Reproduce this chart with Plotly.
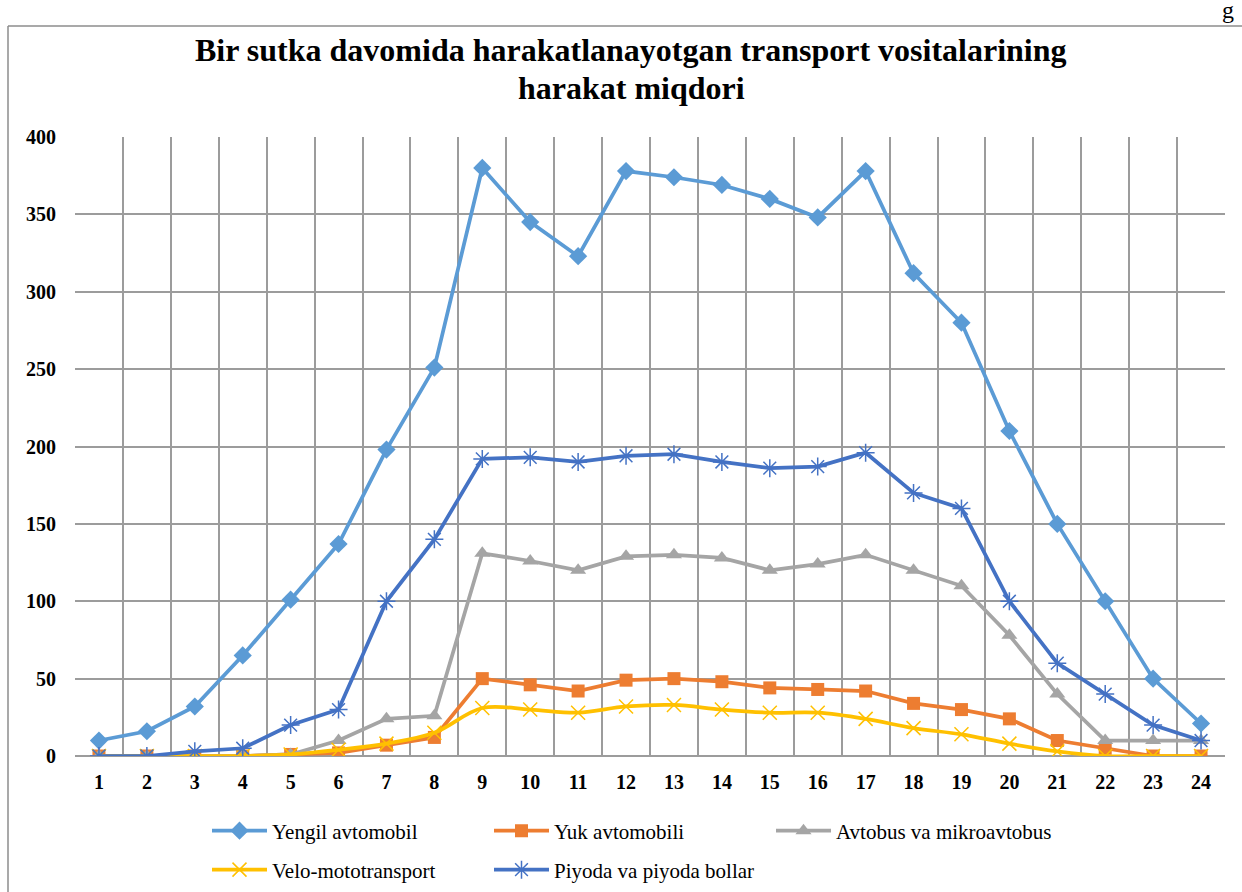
import plotly.graph_objects as go

hours = [str(i) for i in range(1, 25)]
yengil = [10, 16, 32, 65, 101, 137, 198, 251, 380, 345, 323, 378, 374, 369, 360, 348, 378, 312, 280, 210, 150, 100, 50, 21]
yuk = [0, 0, 0, 0, 1, 2, 7, 12, 50, 46, 42, 49, 50, 48, 44, 43, 42, 34, 30, 24, 10, 5, 0, 0]
avtobus = [0, 0, 0, 0, 1, 10, 24, 26, 131, 126, 120, 129, 130, 128, 120, 124, 130, 120, 110, 78, 40, 10, 10, 10]
velo = [0, 0, 0, 0, 1, 4, 8, 15, 31, 30, 28, 32, 33, 30, 28, 28, 24, 18, 14, 8, 3, 0, 0, 0]
piyoda = [0, 0, 3, 5, 20, 30, 100, 140, 192, 193, 190, 194, 195, 190, 186, 187, 196, 170, 160, 100, 60, 40, 20, 10]
y_ticks = [0, 50, 100, 150, 200, 250, 300, 350, 400]
title_lines = ["Bir sutka davomida harakatlanayotgan transport vositalarining", "harakat miqdori"]

FONT = "Liberation Serif"
W, H = 1242, 892
L, R, T, B = 75, 1225, 137, 756  # plot area in px

def px_x(x):
    return (x - L) / (R - L)

def px_y(y):
    return (B - y) / (B - T)

fig = go.Figure()

def add(name, y, color, symbol, size, legend, shape="linear", open_marker=False):
    marker = dict(symbol=symbol, size=size, color=color)
    if open_marker:
        marker["line"] = dict(color=color, width=1.5)
    fig.add_trace(go.Scatter(
        x=hours, y=y, name=name, mode="lines+markers",
        line=dict(color=color, width=3.75, shape=shape),
        marker=marker, legend=legend))

add("Yengil avtomobil", yengil, "#5B9BD5", "diamond", 14, "legend")
add("Yuk avtomobili", yuk, "#ED7D31", "square", 13, "legend")
add("Avtobus va mikroavtobus", avtobus, "#A5A5A5", "triangle-up", 14, "legend")
add("Velo-mototransport", velo, "#FFC000", "x-thin-open", 14, "legend2", shape="spline", open_marker=True)
add("Piyoda va piyoda bollar", piyoda, "#4472C4", "asterisk-open", 15, "legend2", open_marker=True)

grid = "#9C9C9C"
legend_common = dict(orientation="h", xref="container", yref="container", xanchor="left", yanchor="middle",
                     entrywidth=212, entrywidthmode="pixels", itemwidth=55,
                     font=dict(family=FONT, size=21, color="black"), bgcolor="rgba(0,0,0,0)")
fig.update_layout(
    width=W, height=H,
    paper_bgcolor="white", plot_bgcolor="white",
    margin=dict(l=L, r=W - R, t=T, b=H - B, autoexpand=False),
    font=dict(family=FONT, color="black"),
    showlegend=True,
    xaxis=dict(
        type="category", tickson="boundaries", range=[-0.5, 23.5], automargin=False,
        showgrid=True, gridcolor=grid, gridwidth=1.5,
        showline=False, zeroline=False, ticks="",
        tickfont=dict(family=FONT, size=20, color="black", weight="bold"),
        ticklabelstandoff=12),
    yaxis=dict(
        range=[0, 400], tickvals=y_ticks, automargin=False,
        showgrid=True, gridcolor=grid, gridwidth=1.5,
        zeroline=True, zerolinecolor=grid, zerolinewidth=1.5, showline=False, ticks="",
        tickfont=dict(family=FONT, size=20, color="black", weight="bold"),
        ticklabelstandoff=18),
    legend=dict(x=207 / W, y=1 - 831 / H, **legend_common),
    legend2=dict(x=207 / W, y=1 - 870 / H, **legend_common),
    shapes=[
        dict(type="line", xref="paper", yref="paper",
             x0=px_x(8), x1=px_x(8), y0=px_y(26), y1=px_y(900),
             line=dict(color="#8C8C8C", width=1.5)),
        dict(type="line", xref="paper", yref="paper",
             x0=px_x(8), x1=px_x(1250), y0=px_y(26), y1=px_y(26),
             line=dict(color="#8C8C8C", width=1.5)),
    ],
    annotations=[
        dict(text="<b>%s</b>" % title_lines[0], xref="paper", yref="paper", x=px_x(631), y=px_y(50),
             xanchor="center", yanchor="middle", showarrow=False,
             font=dict(family=FONT, size=32, color="black")),
        dict(text="<b>%s</b>" % title_lines[1], xref="paper", yref="paper", x=px_x(631), y=px_y(88),
             xanchor="center", yanchor="middle", showarrow=False,
             font=dict(family=FONT, size=32, color="black")),
        dict(text="g", xref="paper", yref="paper", x=px_x(1228), y=px_y(10),
             xanchor="center", yanchor="middle", showarrow=False,
             font=dict(family=FONT, size=24, color="black")),
    ],
)

fig.write_html("out.html", config={"displayModeBar": False},
               post_script="document.body.style.margin='0';")
